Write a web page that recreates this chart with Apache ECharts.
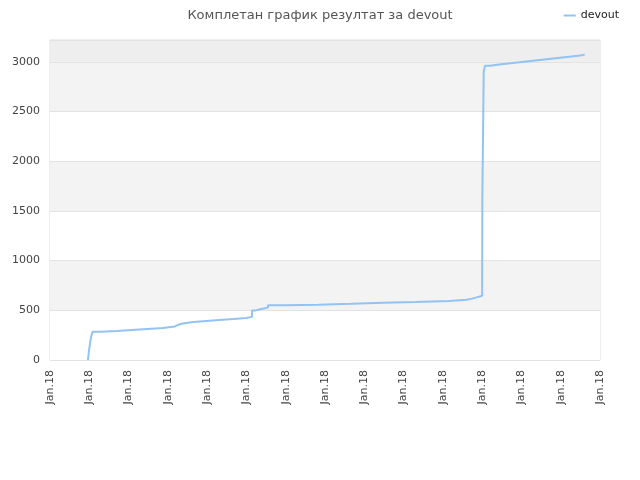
<!DOCTYPE html>
<html>
<head>
<meta charset="utf-8">
<script src="https://cdn.jsdelivr.net/npm/echarts@6/dist/echarts.min.js"></script>
<style>
	html, body { margin: 0; padding: 0; background: #fff; }
	#chart { width: 640px; height: 480px; }
</style>
</head>
<body>
<div id="chart"></div>
<script>
// x positions are measured in label slots (0..14), every slot reads "Jan.18"
var tickLabels = ['Jan.18', 'Jan.18', 'Jan.18', 'Jan.18', 'Jan.18', 'Jan.18', 'Jan.18', 'Jan.18',
	'Jan.18', 'Jan.18', 'Jan.18', 'Jan.18', 'Jan.18', 'Jan.18', 'Jan.18'];
var stepX = [0.967, 0.99, 1.02, 1.05, 1.087, 1.298, 1.697, 2.087, 2.477, 2.876, 3.072, 3.18, 3.27, 3.35,
	3.462, 3.648, 3.979, 4.309, 4.666, 4.989, 5.142, 5.218, 5.345, 5.549, 5.982, 6.829, 7.662, 8.484,
	9.316, 10.164, 10.6, 10.72, 10.86, 11.0, 11.005, 11.04, 11.073, 11.2, 11.437, 11.666, 11.895,
	12.124, 12.353, 12.582, 12.811, 13.04, 13.269, 13.491, 13.61];
var devoutScore = [0, 90, 170, 240, 285, 292, 302, 312, 322, 332, 338, 355, 365, 372,
	382, 392, 402, 412, 422, 434, 497, 510, 527, 551, 557, 567, 577, 584,
	594, 607, 615, 630, 647, 664, 1611, 2902, 2960, 2973, 2983, 2993, 3003,
	3013, 3023, 3033, 3043, 3053, 3063, 3073, 3073];

var seriesData = [];
for (var i = 0; i < stepX.length; i++) {
	seriesData.push([stepX[i], devoutScore[i]]);
}

var myChart = echarts.init(document.getElementById('chart'));
var option = {
	animation: false,
	title: {
		text: 'Комплетан график резултат за devout',
		left: 'center',
		top: 4,
		textStyle: {
			fontFamily: 'DejaVu Sans',
			fontSize: 13,
			fontWeight: 'normal',
			color: '#555'
		}
	},
	legend: {
		right: 16,
		top: 5,
		itemWidth: 12,
		itemHeight: 2,
		itemGap: 8,
		icon: 'rect',
		textStyle: {
			fontFamily: 'DejaVu Sans',
			fontSize: 11,
			color: '#222'
		},
		data: ['devout']
	},
	grid: {
		left: 50,
		right: 40,
		top: 40,
		bottom: 120,
		show: true,
		borderColor: '#dddddd',
		borderWidth: 1,
		containLabel: false
	},
	xAxis: {
		type: 'value',
		min: 0,
		max: 14,
		interval: 1,
		axisLine: { show: false },
		axisTick: { show: false },
		splitLine: { show: false },
		axisLabel: {
			rotate: 90,
			margin: 10,
			fontFamily: 'DejaVu Sans',
			fontSize: 11,
			color: '#444',
			formatter: function (v) {
				return tickLabels[Math.round(v)] || '';
			}
		}
	},
	yAxis: {
		type: 'value',
		min: 0,
		max: 3220,
		interval: 500,
		axisLine: { show: false },
		axisTick: { show: false },
		axisLabel: {
			showMaxLabel: false,
			margin: 10,
			fontFamily: 'DejaVu Sans',
			fontSize: 11,
			color: '#444',
			formatter: function (v) {
				return String(v);
			}
		},
		splitLine: {
			show: true,
			lineStyle: { color: '#e2e2e2' }
		},
		splitArea: {
			show: true,
			areaStyle: {
				color: ['#ffffff', '#f3f3f3', '#ffffff', '#f3f3f3', '#ffffff', '#f3f3f3', '#eeeeee']
			}
		}
	},
	series: [{
		name: 'devout',
		type: 'line',
		step: 'end',
		symbol: 'none',
		data: seriesData,
		itemStyle: { color: '#92c3f3' },
		lineStyle: { color: '#92c3f3', width: 2 }
	}]
};
myChart.setOption(option);
</script>
</body>
</html>
